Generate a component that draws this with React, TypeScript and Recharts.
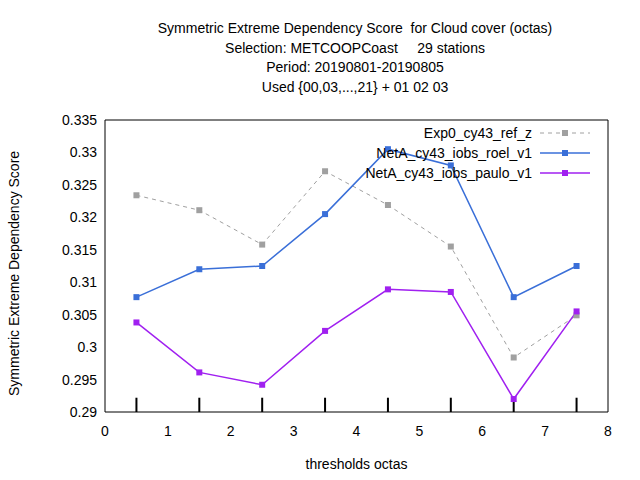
import { LineChart, Line, XAxis, YAxis, ReferenceArea, ReferenceLine } from "recharts";

const thresholds = [0.5, 1.5, 2.5, 3.5, 4.5, 5.5, 6.5, 7.5];
const exp0 = [0.3234, 0.3211, 0.3158, 0.3271, 0.3219, 0.3155, 0.2984, 0.3049];
const roel = [0.3077, 0.312, 0.3125, 0.3205, 0.3305, 0.328, 0.3077, 0.3125];
const paulo = [0.3038, 0.2961, 0.2942, 0.3025, 0.3089, 0.3085, 0.292, 0.3055];
const xTicks = [0, 1, 2, 3, 4, 5, 6, 7, 8];
const yTicks = [0.29, 0.295, 0.3, 0.305, 0.31, 0.315, 0.32, 0.325, 0.33, 0.335];
const titleLines = [
  "Symmetric Extreme Dependency Score  for Cloud cover (octas)",
  "Selection: METCOOPCoast     29 stations",
  "Period: 20190801-20190805",
  "Used {00,03,...,21} + 01 02 03",
];

const series = [
  { key: "exp0", name: "Exp0_cy43_ref_z", color: "#a0a0a0", dash: "4 4" },
  { key: "roel", name: "NetA_cy43_iobs_roel_v1", color: "#3a6fd8", dash: undefined },
  { key: "paulo", name: "NetA_cy43_iobs_paulo_v1", color: "#a020f0", dash: undefined },
];

const data = thresholds.map((t, i) => ({ t, exp0: exp0[i], roel: roel[i], paulo: paulo[i] }));

const font = "'Liberation Sans', Arial, sans-serif";

const square = (color: string) => (p: any) =>
  <rect key={p.index} x={p.cx - 3} y={p.cy - 3} width={6} height={6} fill={color} />;

const fmt = (v: number) => Number(v.toFixed(3)).toString();

export default function App() {
  return (
    <div style={{ position: "absolute", left: 0, top: 0, width: 640, height: 480, background: "#fff", fontFamily: font }}>
      {titleLines.map((l, i) => (
        <div key={i} style={{ position: "absolute", left: 95, width: 520, top: 20 + i * 19.5, textAlign: "center", fontSize: 14, whiteSpace: "pre" }}>{l}</div>
      ))}
      <div style={{ position: "absolute", left: 105, width: 503, top: 456, textAlign: "center", fontSize: 14 }}>thresholds octas</div>
      <LineChart width={640} height={480} data={data} margin={{ top: 120, right: 32, left: 0, bottom: 38 }} style={{ position: "absolute", left: 0, top: 0 }}>
        <XAxis dataKey="t" type="number" domain={[0, 8]} ticks={xTicks} tickLine={false} axisLine={false}
          tick={{ fontSize: 14, fill: "#000", fontFamily: font }} tickMargin={8} />
        <YAxis type="number" domain={[0.29, 0.335]} ticks={yTicks} width={105} tickFormatter={fmt} tickLine={false} axisLine={false}
          tick={{ fontSize: 14, fill: "#000", fontFamily: font }}
          label={{ value: "Symmetric Extreme Dependency Score", angle: -90, position: "insideLeft", offset: 14, dy: 130, fontSize: 14, fill: "#000", fontFamily: font }} />
        <ReferenceArea x1={0} x2={8} y1={0.29} y2={0.335} fill="none" stroke="#000" strokeOpacity={1} />
        {thresholds.map((t) => (
          <ReferenceLine key={t} segment={[{ x: t, y: 0.29 }, { x: t, y: 0.2922 }]} stroke="#000" strokeWidth={2} />
        ))}
        {series.map((s) => (
          <Line key={s.key} dataKey={s.key} stroke={s.color} strokeWidth={s.dash ? 1 : 1.5} strokeDasharray={s.dash}
            dot={square(s.color)} activeDot={false} isAnimationActive={false} />
        ))}
      </LineChart>
      <svg width={640} height={480} style={{ position: "absolute", left: 0, top: 0, pointerEvents: "none" }}>
        {series.map((s, i) => (
          <g key={s.key}>
            <text x={532} y={138 + i * 20} textAnchor="end" fontSize={14} fontFamily={font}>{s.name}</text>
            <line x1={540} x2={590} y1={133 + i * 20} y2={133 + i * 20} stroke={s.color} strokeWidth={s.dash ? 1 : 1.5} strokeDasharray={s.dash} />
            <rect x={562} y={130 + i * 20} width={6} height={6} fill={s.color} />
          </g>
        ))}
      </svg>
    </div>
  );
}
